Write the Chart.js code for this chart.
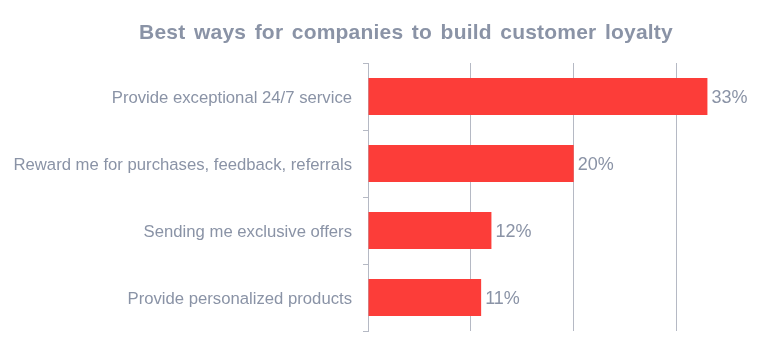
<!DOCTYPE html>
<html>
<head>
<meta charset="utf-8">
<script src="https://cdn.jsdelivr.net/npm/chart.js@4"></script>
<style>
  html, body { margin: 0; padding: 0; background: #fff; }
  canvas { display: block; }
</style>
</head>
<body>
<canvas id="chart" width="776" height="346"></canvas>
<script>
// chart data
const categories = [
  'Provide exceptional 24/7 service',
  'Reward me for purchases, feedback, referrals',
  'Sending me exclusive offers',
  'Provide personalized products'
];
const shares = [33, 20, 12, 11];
const titleText = 'Best ways for companies to build customer loyalty';

const textGray = '#8a93a6';
const lineGray = '#b5b9c4';
const barRed = '#fc3d39';
const fontFamily = '"Liberation Sans", Arial, sans-serif';

// draws "xx%" at the end of each bar
const valueLabels = {
  id: 'valueLabels',
  afterDatasetsDraw(chart) {
    const ctx = chart.ctx;
    const meta = chart.getDatasetMeta(0);
    ctx.save();
    ctx.font = '18px ' + fontFamily;
    ctx.fillStyle = textGray;
    ctx.textAlign = 'left';
    ctx.textBaseline = 'middle';
    meta.data.forEach((bar, i) => {
      ctx.fillText(shares[i] + '%', bar.x + 4, bar.y + 1.5);
    });
    ctx.restore();
  }
};

// title sits off-centre in the original, so draw it by hand
const offsetTitle = {
  id: 'offsetTitle',
  afterDraw(chart) {
    const ctx = chart.ctx;
    ctx.save();
    ctx.font = 'bold 21px ' + fontFamily;
    ctx.fillStyle = textGray;
    ctx.textAlign = 'center';
    ctx.textBaseline = 'middle';
    ctx.letterSpacing = '0.2px';
    ctx.wordSpacing = '2.5px';
    ctx.fillText(titleText, 406, 33);
    ctx.restore();
  }
};

new Chart(document.getElementById('chart'), {
  type: 'bar',
  data: {
    labels: categories,
    datasets: [{
      data: shares,
      backgroundColor: barRed,
      borderWidth: 0,
      categoryPercentage: 1,
      barPercentage: 0.55
    }]
  },
  options: {
    indexAxis: 'y',
    responsive: false,
    animation: false,
    layout: { padding: { left: 0, right: 48, top: 63, bottom: 15 } },
    plugins: {
      legend: { display: false },
      tooltip: { enabled: false },
      title: { display: false }
    },
    scales: {
      x: {
        min: 0,
        max: 35,
        ticks: { display: false, stepSize: 10 },
        border: { display: false },
        grid: {
          drawTicks: false,
          color: c => (c.tick && c.tick.value % 10 === 0) ? lineGray : 'transparent',
          lineWidth: 1
        }
      },
      y: {
        afterFit: s => {
          s.width = 368;
          // labels sit inside their bands, no extra room needed above/below
          s.paddingTop = 0;
          s.paddingBottom = 0;
        },
        border: { display: true, color: lineGray },
        grid: { drawOnChartArea: false, tickLength: 5, color: lineGray },
        ticks: {
          color: textGray,
          padding: 11,
          labelOffset: 1.5,
          font: { family: fontFamily, size: 16.7 }
        }
      }
    }
  },
  plugins: [valueLabels, offsetTitle]
});
</script>
</body>
</html>
